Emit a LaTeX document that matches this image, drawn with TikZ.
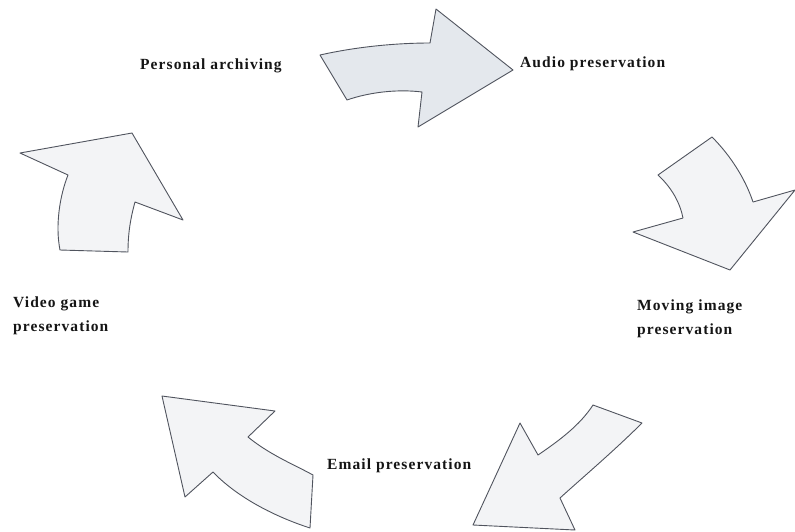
\documentclass[tikz,border=0pt]{standalone}
\usepackage{fontspec}
\setmainfont{Liberation Serif}
\definecolor{arrowline}{HTML}{50545E}
\definecolor{arrowfillA}{HTML}{E4E8ED}
\definecolor{arrowfillB}{HTML}{F3F4F6}
\definecolor{labeltext}{HTML}{151515}
\tikzset{
  cyclearrow/.style={draw=arrowline, line width=0.9pt, line join=round, fill=arrowfillB},
  lbl/.style={text=labeltext, font=\bfseries\fontsize{15.5}{24}\selectfont\addfontfeature{LetterSpace=7}, inner sep=0pt, align=left}
}
\begin{document}
\begin{tikzpicture}[x=1pt,y=-1pt]
\useasboundingbox (0,0) rectangle (795,531);
% arrow 1 (top)
\path[cyclearrow, fill=arrowfillA] (320,55) .. controls (360,46) and (400,43) .. (430,43) -- (436,9) -- (513,70) -- (418,127) -- (422,92) .. controls (398,89) and (370,92) .. (347,100) -- cycle;
% arrow 2 (right)
\path[cyclearrow] (658,175) -- (712,137) .. controls (730,155) and (745,178) .. (753,202) -- (795,190) -- (730,270) -- (633,232) -- (683,218) .. controls (680,203) and (672,188) .. (658,175) -- cycle;
% arrow 3 (bottom right)
\path[cyclearrow] (593,405) -- (642,423) .. controls (615,450) and (582,478) .. (560,498) -- (575,530) -- (473,525) -- (520,423) -- (538,455) .. controls (560,440) and (580,425) .. (593,405) -- cycle;
% arrow 4 (bottom left)
\path[cyclearrow] (162,396) -- (275,411) -- (248,437) .. controls (270,455) and (295,465) .. (313,475) -- (310,528) .. controls (270,515) and (235,495) .. (213,472) -- (185,497) -- cycle;
% arrow 5 (left)
\path[cyclearrow] (20,153) -- (132,133) -- (183,220) -- (135,202) .. controls (130,220) and (128,235) .. (128,252) -- (60,250) .. controls (55,225) and (60,195) .. (68,175) -- cycle;
% labels
\node[lbl, anchor=west] (pa) at (140,66) {Personal archiving};
\node[lbl, anchor=west] (ap) at (520,64) {Audio preservation};
\node[lbl, anchor=west] (mi) at (637,319) {Moving image\\preservation};
\node[lbl, anchor=west] (ep) at (327,466) {Email preservation};
\node[lbl, anchor=west] (vg) at (13,316) {Video game\\preservation};
\end{tikzpicture}
\end{document}
